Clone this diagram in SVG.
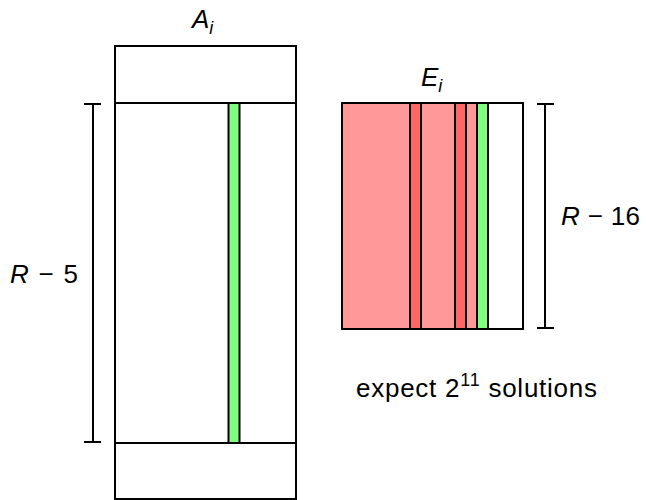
<svg xmlns="http://www.w3.org/2000/svg" width="646" height="500" viewBox="0 0 646 500">
<style>
.ln{stroke:#000;stroke-width:2;fill:none}
.t{font-family:"Liberation Sans","DejaVu Sans",sans-serif;font-size:26px;fill:#000}
.lr{fill:#ff9999;stroke:none}
.dr{fill:#ff6666;stroke:#000;stroke-width:2}
.gr{fill:#80ff80;stroke:#000;stroke-width:2}
</style>
<rect width="646" height="500" fill="#fff"/>
<g id="A">
<rect class="ln" x="115" y="46" width="181" height="453"/>
<rect class="gr" x="228.5" y="103" width="11" height="340"/>
<line class="ln" x1="115" y1="103" x2="296" y2="103"/>
<line class="ln" x1="115" y1="443" x2="296" y2="443"/>
<text class="t" x="192" y="27.5"><tspan font-style="italic">A</tspan><tspan font-style="italic" font-size="18" dy="6">i</tspan></text>
</g>
<g id="E">
<rect class="lr" x="342" y="103" width="146" height="226"/>
<rect class="dr" x="410" y="103" width="11" height="226"/>
<rect class="dr" x="455" y="103" width="11" height="226"/>
<rect class="gr" x="477" y="103" width="11" height="226"/>
<rect class="ln" x="342" y="103" width="181" height="226"/>
<text class="t" x="421" y="85.5"><tspan font-style="italic">E</tspan><tspan font-style="italic" font-size="18" dy="6">i</tspan></text>
</g>
<g id="connectors">
<line class="ln" x1="93" y1="104" x2="93" y2="442"/>
<line class="ln" x1="84" y1="104" x2="101" y2="104"/>
<line class="ln" x1="84" y1="442" x2="101" y2="442"/>
<line class="ln" x1="545" y1="104" x2="545" y2="328"/>
<line class="ln" x1="537" y1="104" x2="554" y2="104"/>
<line class="ln" x1="537" y1="328" x2="554" y2="328"/>
</g>
<g id="labels">
<text class="t" x="10" y="283" textLength="68" lengthAdjust="spacing"><tspan font-style="italic">R</tspan> − 5</text>
<text class="t" x="561" y="225" textLength="79" lengthAdjust="spacing"><tspan font-style="italic">R</tspan> − 16</text>
<text class="t" x="356" y="397" textLength="241" lengthAdjust="spacing">expect 2<tspan font-size="18" dy="-11">11</tspan><tspan dy="11"> solutions</tspan></text>
</g>
</svg>
